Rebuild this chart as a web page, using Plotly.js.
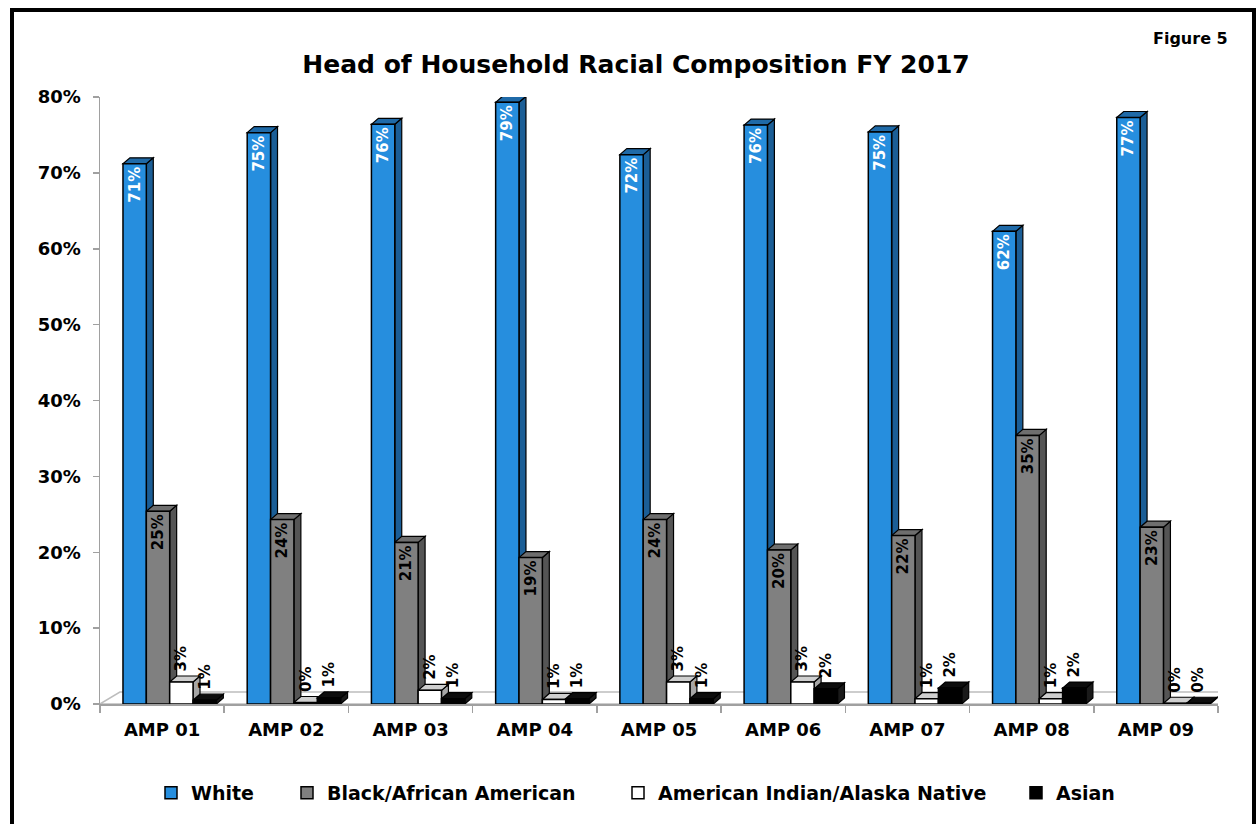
<!DOCTYPE html>
<html>
<head>
<meta charset="utf-8">
<script src="https://cdn.plot.ly/plotly-3.0.1.min.js"></script>
<style>
  html, body { margin: 0; padding: 0; background: #ffffff; }
  #wrap { position: relative; width: 1259px; height: 824px; overflow: hidden; }
  #chart { position: absolute; left: 0; top: 0; width: 1259px; height: 824px; }
  #frame { position: absolute; left: 10px; top: 8px; width: 1238px; height: 900px; border: 4px solid #000; pointer-events: none; }
</style>
</head>
<body>
<div id="wrap"><div id="chart"></div><div id="frame"></div></div>
<script>
// ---- data ----
const categories = ["AMP 01","AMP 02","AMP 03","AMP 04","AMP 05","AMP 06","AMP 07","AMP 08","AMP 09"];
const seriesNames = ["White","Black/African American","American Indian/Alaska Native","Asian"];
const white = [71.2, 75.3, 76.4, 79.3, 72.4, 76.3, 75.4, 62.3, 77.3];
const black = [25.4, 24.3, 21.3, 19.3, 24.3, 20.3, 22.2, 35.4, 23.3];
const aian  = [2.9, 0.2, 1.8, 0.6, 2.9, 2.9, 0.7, 0.7, 0.1];
const asian = [0.5, 0.8, 0.7, 0.7, 0.7, 2.0, 2.1, 2.1, 0.1];
const yTicks = [0,10,20,30,40,50,60,70,80];

// ---- style ----
const seriesData = [white, black, aian, asian];
const frontCol = ["#268ede", "#808080", "#ffffff", "#000000"];
const sideCol  = ["#1b5e96", "#555555", "#a6a6a6", "#1a1a1a"];
const topCol   = ["#1f6aa8", "#6e6e6e", "#cfcfcf", "#0d0d0d"];
const labelCol = ["#ffffff", "#000000", "#000000", "#000000"];
const labelPos = ["inside", "inside", "outside", "outside"];
const FONT = "DejaVu Sans, Verdana, sans-serif";

const barW = 0.188;
const firstOff = -0.315;
const dx = 0.056;   // depth in category units
const dy = 0.79;    // depth in % units

const traces = seriesData.map((vals, j) => ({
  type: "bar",
  name: seriesNames[j],
  x: categories,
  y: vals,
  width: barW,
  offset: firstOff + j * barW,
  marker: { color: frontCol[j], line: { color: "#000000", width: 1.5 } },
  texttemplate: (labelPos[j] === "outside" ? "\u2002" : "") + "%{y:.0f}%",
  textposition: labelPos[j],
  insidetextanchor: "end",
  textangle: -90,
  constraintext: "none",
  cliponaxis: false,
  textfont: { family: FONT, size: 15, weight: "bold", color: labelCol[j] },
  insidetextfont: { family: FONT, size: 15, weight: "bold", color: labelCol[j] },
  outsidetextfont: { family: FONT, size: 15, weight: "bold", color: labelCol[j] },
  legend: j === 0 ? "legend" : "legend" + (j + 1),
  hoverinfo: "x+y+name"
}));

// 3D faces derived from the data values
const shapes = [];
const n = categories.length;
// floor
shapes.push({
  type: "path", layer: "below", xref: "x", yref: "y",
  path: `M -0.5,0 L ${n - 0.5},0 L ${n - 0.5 + 0.16},1.58 L ${-0.5 + 0.16},1.58 Z`,
  line: { color: "#bdbdbd", width: 1.5 }, fillcolor: "#ffffff"
});
seriesData.forEach((vals, j) => {
  vals.forEach((v, i) => {
    const x0 = i + firstOff + j * barW;
    const x1 = x0 + barW;
    shapes.push({
      type: "path", layer: "below", xref: "x", yref: "y",
      path: `M ${x1},0 L ${x1},${v} L ${x1 + dx},${v + dy} L ${x1 + dx},${dy} Z`,
      line: { color: "#000000", width: 1.2 }, fillcolor: sideCol[j]
    });
    shapes.push({
      type: "path", layer: "below", xref: "x", yref: "y",
      path: `M ${x0},${v} L ${x1},${v} L ${x1 + dx},${v + dy} L ${x0 + dx},${v + dy} Z`,
      line: { color: "#000000", width: 1.2 }, fillcolor: topCol[j]
    });
  });
});

const legendBase = {
  orientation: "h", xref: "container", yref: "container",
  yanchor: "middle", y: 1 - 793 / 824, xanchor: "left",
  font: { family: FONT, size: 19, weight: "bold", color: "#000000" },
  bgcolor: "rgba(0,0,0,0)", borderwidth: 0
};
const legendX = [151, 287, 618, 1016];

const layout = {
  width: 1259, height: 824,
  paper_bgcolor: "#ffffff", plot_bgcolor: "#ffffff",
  margin: { l: 100, r: 41, t: 97, b: 120 },
  barmode: "overlay",
  title: {
    text: "Head of Household Racial Composition FY 2017",
    font: { family: FONT, size: 25, weight: "bold", color: "#000000" },
    xref: "container", yref: "container",
    x: 636 / 1259, xanchor: "center", y: 1 - 64 / 824, yanchor: "middle"
  },
  xaxis: {
    type: "category",
    range: [-0.5, n - 0.5],
    tickson: "boundaries",
    ticks: "outside", ticklen: 7, tickcolor: "#a0a0a0", tickwidth: 1.5,
    showline: true, linecolor: "#a0a0a0", linewidth: 1.5,
    showgrid: false, zeroline: false,
    tickfont: { family: FONT, size: 18, weight: "bold", color: "#000000" },
    ticklabelstandoff: 9,
    fixedrange: true
  },
  yaxis: {
    range: [0, 80],
    tickvals: yTicks,
    ticktext: yTicks.map(t => t + "%"),
    ticks: "outside", ticklen: 6, tickcolor: "#a0a0a0", tickwidth: 1.5,
    showline: true, linecolor: "#a0a0a0", linewidth: 1.5,
    showgrid: false, zeroline: false,
    tickfont: { family: FONT, size: 18, weight: "bold", color: "#000000" },
    ticklabelstandoff: 8,
    fixedrange: true
  },
  shapes: shapes,
  annotations: [{
    text: "Figure 5", showarrow: false,
    xref: "paper", yref: "paper",
    x: (1230 - 100) / 1118, xanchor: "right",
    y: (704 - 38) / 607, yanchor: "middle",
    font: { family: FONT, size: 16, weight: "bold", color: "#000000" }
  }],
  legend: Object.assign({}, legendBase, { x: legendX[0] / 1259 }),
  legend2: Object.assign({}, legendBase, { x: legendX[1] / 1259 }),
  legend3: Object.assign({}, legendBase, { x: legendX[2] / 1259 }),
  legend4: Object.assign({}, legendBase, { x: legendX[3] / 1259 }),
  showlegend: true
};

Plotly.newPlot("chart", traces, layout, { displayModeBar: false, staticPlot: true });
</script>
</body>
</html>
